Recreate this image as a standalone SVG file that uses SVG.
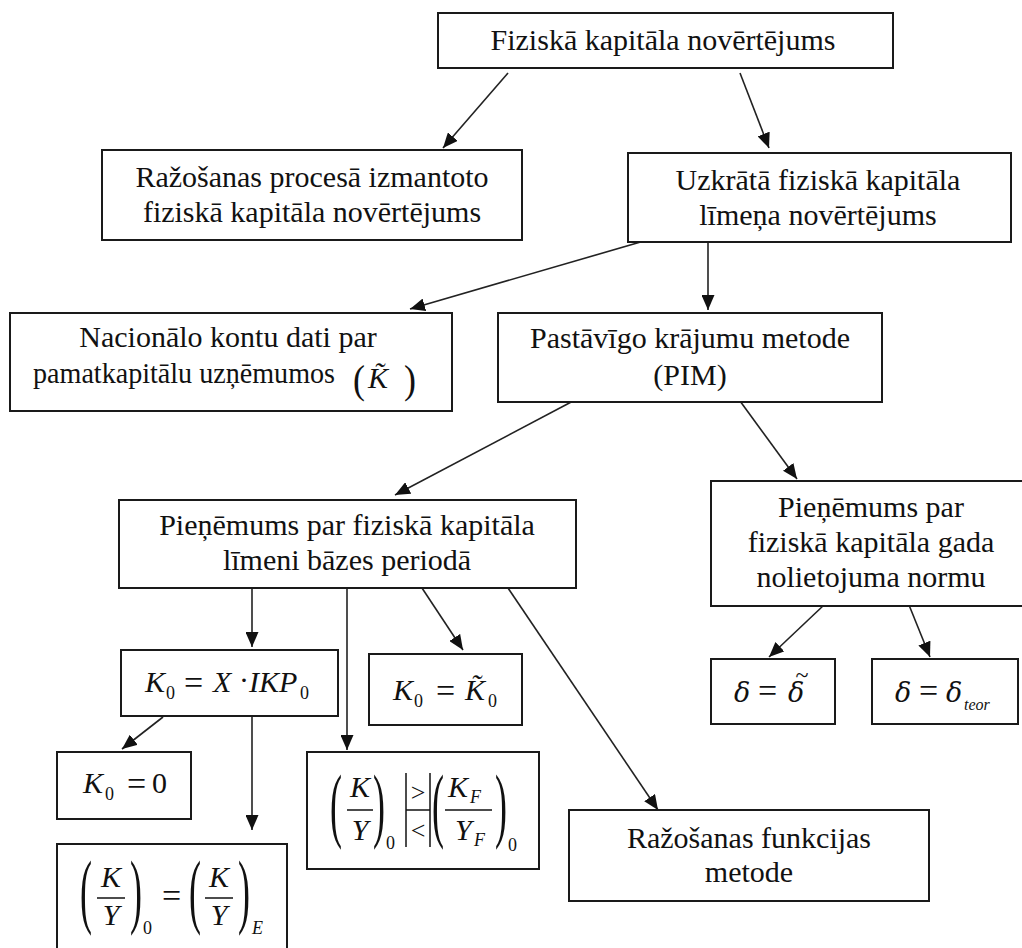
<svg xmlns="http://www.w3.org/2000/svg" width="1022" height="948" viewBox="0 0 1022 948">
<style>
.box{fill:#fff;stroke:#1a1a1a;stroke-width:2}
.t,.m,.u,.s,.si,.op,.p,.til{font-family:'Liberation Serif','Times New Roman','DejaVu Serif',serif;fill:#111}
.t{font-size:30px;text-anchor:middle}
.m{font-style:italic;font-size:30px}
.u{font-size:30px}
.s{font-size:18px}
.si{font-size:18px;font-style:italic}
.op{font-size:34px}
.p{font-size:36px}
.til{font-size:24px;text-anchor:middle}
.d{font-family:'DejaVu Serif',serif;font-style:italic;font-size:27px;fill:#111}
.c{text-anchor:middle}
.ln{stroke:#111;stroke-width:1.5;fill:none}
#connectors line{stroke:#222;stroke-width:1.6;marker-end:url(#ah)}
</style>
<defs>
<marker id="ah" markerUnits="userSpaceOnUse" markerWidth="15" markerHeight="13" refX="15" refY="6.5" orient="auto">
<path d="M0,0 L15,6.5 L0,13 z" fill="#111"/>
</marker>
</defs>
<rect width="1022" height="948" fill="#fff"/>

<g id="connectors">
<line x1="508" y1="73" x2="443" y2="148"/>
<line x1="740" y1="73" x2="769" y2="148"/>
<line x1="644" y1="241" x2="410" y2="309"/>
<line x1="708" y1="242" x2="708" y2="310"/>
<line x1="575" y1="400" x2="395" y2="495"/>
<line x1="740" y1="401" x2="797" y2="479"/>
<line x1="252" y1="588" x2="252" y2="647"/>
<line x1="347" y1="588" x2="347" y2="750"/>
<line x1="422" y1="588" x2="463" y2="650"/>
<line x1="508" y1="588" x2="658" y2="810"/>
<line x1="163" y1="717" x2="122" y2="749"/>
<line x1="252" y1="717" x2="252" y2="830"/>
<line x1="824" y1="605" x2="769" y2="657"/>
<line x1="909" y1="605" x2="930" y2="657"/>
</g>

<g id="n1">
<rect class="box" x="438" y="13" width="455" height="55"/>
<text class="t" x="663" y="50">Fiziskā kapitāla novērtējums</text>
</g>

<g id="n2">
<rect class="box" x="102" y="150" width="420" height="90"/>
<text class="t" x="312" y="187">Ražošanas procesā izmantoto</text>
<text class="t" x="312" y="222">fiziskā kapitāla novērtējums</text>
</g>

<g id="n3">
<rect class="box" x="628" y="153" width="383" height="89"/>
<text class="t" x="818" y="190">Uzkrātā fiziskā kapitāla</text>
<text class="t" x="818" y="225">līmeņa novērtējums</text>
</g>

<g id="n4">
<rect class="box" x="10" y="313" width="442" height="98"/>
<text class="t" x="228" y="347">Nacionālo kontu dati par</text>
<text class="u" x="33" y="383" textLength="302" lengthAdjust="spacingAndGlyphs">pamatkapitālu uzņēmumos</text>
<text class="p" transform="translate(353,393) scale(1,1.12)">(</text>
<text class="m" x="368" y="388">K̃</text>
<text class="p" transform="translate(404,393) scale(1,1.12)">)</text>
</g>

<g id="n5">
<rect class="box" x="498" y="313" width="384" height="89"/>
<text class="t" x="690" y="348">Pastāvīgo krājumu metode</text>
<text class="t" x="690" y="385">(PIM)</text>
</g>

<g id="n6">
<rect class="box" x="119" y="500" width="457" height="88"/>
<text class="t" x="347" y="535">Pieņēmums par fiziskā kapitāla</text>
<text class="t" x="347" y="570">līmeni bāzes periodā</text>
</g>

<g id="n7">
<rect class="box" x="711" y="481" width="320" height="125"/>
<text class="t" x="871" y="517">Pieņēmums par</text>
<text class="t" x="871" y="552">fiziskā kapitāla gada</text>
<text class="t" x="871" y="587">nolietojuma normu</text>
</g>

<g id="n8">
<rect class="box" x="121" y="650" width="217" height="66"/>
<text class="m" x="145" y="692">K</text>
<text class="s" x="166" y="699">0</text>
<text class="op" x="184" y="694">=</text>
<text class="m" x="213" y="692">X</text>
<text class="u" x="239" y="690">·</text>
<text class="m" x="249" y="692">IKP</text>
<text class="s" x="300" y="699">0</text>
</g>

<g id="n9">
<rect class="box" x="369" y="654" width="153" height="71"/>
<text class="m" x="393" y="700">K</text>
<text class="s" x="414" y="707">0</text>
<text class="op" x="436" y="702">=</text>
<text class="m" x="465" y="700">K̃</text>
<text class="s" x="488" y="707">0</text>
</g>

<g id="n10">
<rect class="box" x="57" y="752" width="134" height="67"/>
<text class="m" x="83" y="793">K</text>
<text class="s" x="105" y="800">0</text>
<text class="op" x="127" y="795">=</text>
<text class="u" x="152" y="793">0</text>
</g>

<g id="n11">
<rect class="box" x="57" y="844" width="230" height="120"/>
<text class="p" transform="translate(80,918) scale(1,2.3)">(</text>
<text class="m c" x="111" y="887">K</text>
<line class="ln" x1="97" y1="898" x2="125" y2="898"/>
<text class="m c" x="111" y="925">Y</text>
<text class="p" transform="translate(130,918) scale(1,2.3)">)</text>
<text class="s" x="143" y="934">0</text>
<text class="op" x="162" y="907">=</text>
<text class="p" transform="translate(189,918) scale(1,2.3)">(</text>
<text class="m c" x="219" y="887">K</text>
<line class="ln" x1="205" y1="898" x2="233" y2="898"/>
<text class="m c" x="219" y="925">Y</text>
<text class="p" transform="translate(238,918) scale(1,2.3)">)</text>
<text class="si" x="252" y="934">E</text>
</g>

<g id="n12">
<rect class="box" x="307" y="752" width="232" height="117"/>
<text class="p" transform="translate(330,832) scale(1,2.3)">(</text>
<text class="m c" x="360" y="797">K</text>
<line class="ln" x1="347" y1="810" x2="373" y2="810"/>
<text class="m c" x="360" y="840">Y</text>
<text class="p" transform="translate(373,832) scale(1,2.3)">)</text>
<text class="s" x="386" y="849">0</text>
<line class="ln" x1="406" y1="773" x2="406" y2="847"/>
<line class="ln" x1="430" y1="773" x2="430" y2="847"/>
<line class="ln" x1="406" y1="810" x2="430" y2="810"/>
<text class="u c" x="418" y="801" style="font-size:26px">&gt;</text>
<text class="u c" x="418" y="839" style="font-size:26px">&lt;</text>
<text class="p" transform="translate(432,832) scale(1,2.3)">(</text>
<text class="m" x="448" y="797">K</text>
<text class="si" x="470" y="803">F</text>
<line class="ln" x1="445" y1="810" x2="492" y2="810"/>
<text class="m" x="455" y="840">Y</text>
<text class="si" x="474" y="846">F</text>
<text class="p" transform="translate(495,832) scale(1,2.3)">)</text>
<text class="s" x="508" y="851">0</text>
</g>

<g id="n13">
<rect class="box" x="569" y="810" width="360" height="91"/>
<text class="t" x="749" y="848">Ražošanas funkcijas</text>
<text class="t" x="749" y="882">metode</text>
</g>

<g id="n14">
<rect class="box" x="711" y="659" width="124" height="65"/>
<text class="d" x="734" y="702">δ</text>
<text class="op" x="758" y="702">=</text>
<text class="d" x="788" y="702">δ</text>
<text class="til" x="802" y="683">~</text>
</g>

<g id="n15">
<rect class="box" x="872" y="659" width="146" height="65"/>
<text class="d" x="895" y="702">δ</text>
<text class="op" x="919" y="702">=</text>
<text class="d" x="946" y="702">δ</text>
<text class="si" x="964" y="710" style="font-size:16px">teor</text>
</g>
</svg>
